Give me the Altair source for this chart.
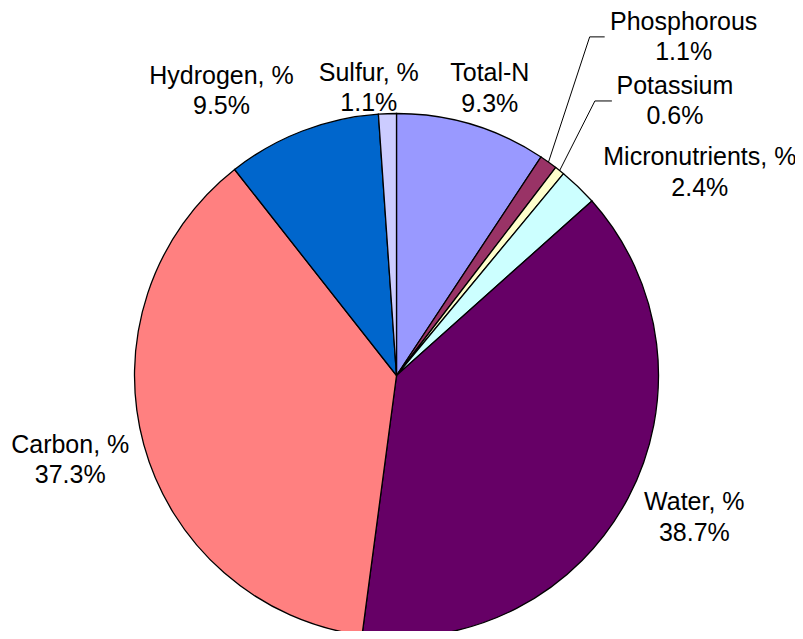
import math
import altair as alt
import pandas as pd

# ---- data ----
categories = ["Total-N", "Phosphorous", "Potassium", "Micronutrients, %",
              "Water, %", "Carbon, %", "Hydrogen, %", "Sulfur, %"]
values = [9.3, 1.1, 0.6, 2.4, 38.7, 37.3, 9.5, 1.1]
value_labels = ["9.3%", "1.1%", "0.6%", "2.4%", "38.7%", "37.3%", "9.5%", "1.1%"]
colors = ["#9999FF", "#993366", "#FFFFCC", "#CCFFFF",
          "#660066", "#FF8080", "#0066CC", "#CCCCFF"]

# ---- layout ----
W, H = 787, 623
CX, CY = 388.5, 367.5      # pie centre inside the plot area
R = 262                    # pie radius
LINE_H = 30.5
label_angle = [18.0, 40.3, 45.4, 56.2, 115.5, 255.5, 328.4, 354.5]   # degrees, clockwise from top
label_radius = [302, 444, 391, 365, 330, 337, 334, 289]
leader = {"Phosphorous": (-79, 15), "Potassium": (-63, 17)}  # (end offset from label centre, stub length)

slices = pd.DataFrame({
    "category": categories,
    "value": values,
    "idx": list(range(len(categories))),
})

labels = pd.DataFrame({
    "text": [f"{c}\n{v}" for c, v in zip(categories, value_labels)],
    "ang": label_angle,
    "rad": label_radius,
})

# leader lines: from slice edge at the slice mid-angle to the label
total = sum(values)
cum = 0.0
rows = []
for i, (c, v) in enumerate(zip(categories, values)):
    mid = (cum + v / 2) / total * 2 * math.pi
    cum += v
    if c in leader:
        off, stub = leader[c]
        la = math.radians(label_angle[i])
        lx = CX + label_radius[i] * math.sin(la)
        ly = CY - label_radius[i] * math.cos(la)
        ex = lx + off
        pts = [(CX + R * math.sin(mid), CY - R * math.cos(mid)),
               (ex - stub, ly), (ex, ly)]
        for k, (px, py) in enumerate(pts):
            rows.append({"name": c, "pt": k, "x": px, "y": py})
lines = pd.DataFrame(rows)

arcs = alt.Chart(slices).mark_arc(
    x=CX, y=CY, radius=R, stroke="black", strokeWidth=1.3
).encode(
    theta=alt.Theta("value:Q", stack=True,
                    scale=alt.Scale(domain=[0, 100], range=[0, 2 * math.pi])),
    color=alt.Color("category:N", scale=alt.Scale(domain=categories, range=colors),
                    legend=None),
    order=alt.Order("idx:Q"),
)

text = alt.Chart(labels).mark_text(
    x=CX, y=CY, dy=-LINE_H / 2, font="Liberation Sans", fontSize=25, lineBreak="\n",
    lineHeight=LINE_H, align="center", baseline="middle", color="black"
).encode(
    theta=alt.Theta("ang:Q", scale=alt.Scale(domain=[0, 360], range=[0, 2 * math.pi])),
    radius=alt.Radius("rad:Q", scale=None),
    text="text:N",
)

leaders = alt.Chart(lines).mark_line(color="black", strokeWidth=1).encode(
    x=alt.X("x:Q", scale=None, axis=None),
    y=alt.Y("y:Q", scale=None, axis=None),
    detail="name:N",
    order="pt:Q",
)

chart = alt.layer(arcs, leaders, text).resolve_scale(theta="independent").properties(
    width=W, height=H, autosize=alt.AutoSizeParams(type="none"), padding=0,
    background="white",
).configure_view(stroke=None)

chart.save("out.html", embed_options={"renderer": "svg", "actions": False})
